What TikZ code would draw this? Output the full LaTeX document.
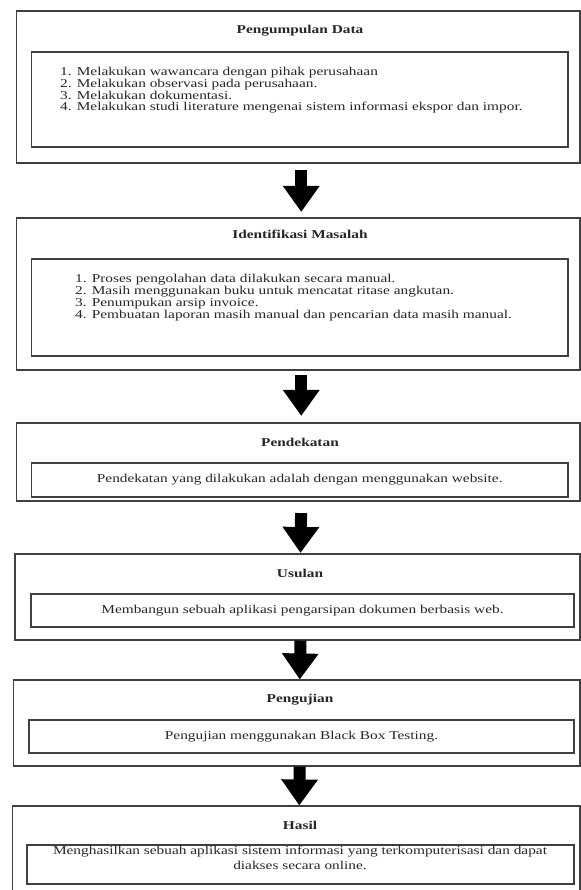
\documentclass[tikz,border=0pt]{standalone}
\usepackage{fontspec}
\setmainfont{Liberation Serif}[FakeStretch=1.28]
\usetikzlibrary{arrows.meta}

\begin{document}
\begin{tikzpicture}[x=1pt,y=-1pt,
  luar/.style={draw=black!75,line width=1.1pt,inner sep=0pt},
  dalam/.style={draw=black!75,line width=1.1pt,inner sep=0pt,text=black!85,
    font=\fontsize{12}{15}\selectfont,align=center},
  judul/.style={font=\fontsize{12}{12}\selectfont\bfseries,text=black!85,inner sep=0pt,anchor=base},
  isi/.style={font=\fontsize{12}{12}\selectfont,text=black!85,inner sep=0pt,anchor=base west},
  panah/.style={-{Triangle[length=26pt,width=35pt]},line width=12pt,draw=black}]
\useasboundingbox (0,0) rectangle (580,890);
% kotak luar {nama}{kiri}{atas}{bawah}, sisi kanan di x=580
\newcommand{\luarbox}[4]{\node[luar,minimum width={580-#2},minimum height={#4-#3}] (#1)
  at ({(#2+580)/2},{(#3+#4)/2}) {};}
% kotak dalam {nama}{kiri}{kanan}{atas}{bawah}{teks}
\newcommand{\dalambox}[6]{\node[dalam,minimum width={#3-#2},minimum height={#5-#4}] (#1)
  at ({(#2+#3)/2},{(#4+#5)/2}) {#6};}
% ---------- Pengumpulan Data ----------
\luarbox{pengumpulan}{16.5}{11}{163}
\node[judul] (pengumpulan-judul) at (300,34) {Pengumpulan Data};
\dalambox{pengumpulan-isi}{31.5}{568}{52}{147}{}
\foreach \teks [count=\i] in {Melakukan wawancara dengan pihak perusahaan,
  Melakukan observasi pada perusahaan.,Melakukan dokumentasi.,
  Melakukan studi literature mengenai sistem informasi ekspor dan impor.}
  \node[isi] (pengumpulan-\i) at (60,{64+11.7*\i}) {\i. \teks};
% ---------- Identifikasi Masalah ----------
\luarbox{identifikasi}{16.5}{218}{370}
\node[judul] (identifikasi-judul) at (300,239) {Identifikasi Masalah};
\dalambox{identifikasi-isi}{31.5}{568}{259}{356}{}
\foreach \teks [count=\i] in {Proses pengolahan data dilakukan secara manual.,
  Masih menggunakan buku untuk mencatat ritase angkutan.,Penumpukan arsip invoice.,
  Pembuatan laporan masih manual dan pencarian data masih manual.}
  \node[isi] (identifikasi-\i) at (75,{270.6+11.9*\i}) {\i. \teks};
% ---------- Pendekatan ----------
\luarbox{pendekatan}{16.5}{423}{501}
\node[judul] (pendekatan-judul) at (300,446) {Pendekatan};
\dalambox{pendekatan-isi}{31.5}{568}{463}{497}{Pendekatan yang dilakukan adalah dengan menggunakan website.}
% ---------- Usulan ----------
\luarbox{usulan}{15}{554}{640}
\node[judul] (usulan-judul) at (300,577) {Usulan};
\dalambox{usulan-isi}{31}{574}{594}{627}{Membangun sebuah aplikasi pengarsipan dokumen berbasis web.}
% ---------- Pengujian ----------
\luarbox{pengujian}{13.5}{680}{766}
\node[judul] (pengujian-judul) at (300,702) {Pengujian};
\dalambox{pengujian-isi}{29}{574}{720}{753}{Pengujian menggunakan Black Box Testing.}
% ---------- Hasil ----------
\luarbox{hasil}{12.5}{806}{900}
\node[judul] (hasil-judul) at (300,829) {Hasil};
\dalambox{hasil-isi}{27}{574}{845}{884}{}
\node[isi,anchor=center,align=center,font=\fontsize{12}{15}\selectfont] (hasil-teks) at (300,857.6)
  {Menghasilkan sebuah aplikasi sistem informasi yang terkomputerisasi dan dapat\\diakses secara online.};
% panah blok
\draw[panah,shorten <=6.5pt,shorten >=5.5pt] ([xshift=3pt]pengumpulan.south) -- ([xshift=3pt]identifikasi.north);
\draw[panah,shorten <=4.5pt,shorten >=6.5pt] ([xshift=3pt]identifikasi.south) -- ([xshift=3pt]pendekatan.north);
\draw[panah,shorten <=11.5pt,shorten >=0.5pt] ([xshift=3pt]pendekatan.south) -- ([xshift=3pt]usulan.north);
\draw[panah] ([xshift=3pt]usulan.south) -- ([xshift=3pt]pengujian.north);
\draw[panah] ([xshift=3pt]pengujian.south) -- ([xshift=3pt]hasil.north);
\end{tikzpicture}
\end{document}
